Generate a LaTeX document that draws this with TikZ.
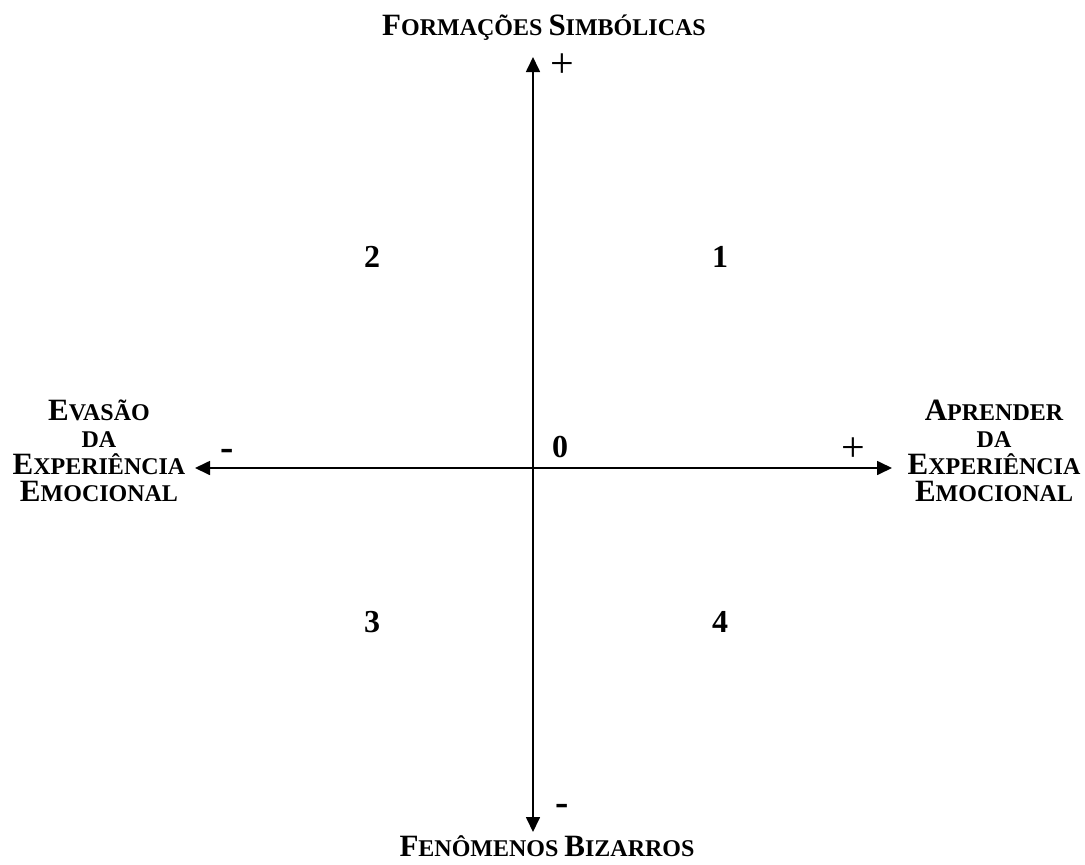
\documentclass[tikz,border=0pt]{standalone}
\usepackage{fontspec}
\setmainfont{Liberation Serif}
\usetikzlibrary{arrows.meta}
\newcommand{\bigc}[1]{{\fontsize{31}{27}\selectfont #1}}
\newcommand{\smc}[1]{{\fontsize{24}{27}\selectfont #1}}
\tikzset{
  axis/.style={line width=1.7pt,-{Triangle[length=15pt,width=14pt]}},
  lbl/.style={font=\bfseries\fontsize{24}{27}\selectfont,align=center,inner sep=0pt},
  num/.style={font=\bfseries\fontsize{32}{34}\selectfont,inner sep=0pt},
  plus/.style={font=\fontsize{42}{44}\selectfont,inner sep=0pt},
  minus/.style={font=\bfseries\fontsize{40}{44}\selectfont,inner sep=0pt}
}
\begin{document}
\begin{tikzpicture}[x=1pt,y=-1pt]
\useasboundingbox (0,0) rectangle (1085,865);
\coordinate (c) at (533,468);
\coordinate (top) at (533,57);
\coordinate (bot) at (533,832);
\coordinate (lft) at (195,468);
\coordinate (rgt) at (892,468);
\draw[axis] (c) -- (top);
\draw[axis] (c) -- (bot);
\draw[axis] (c) -- (lft);
\draw[axis] (c) -- (rgt);
\node[lbl,anchor=base] (tl) at (544,35) {\bigc{F}\smc{ORMAÇÕES} \bigc{S}\smc{IMBÓLICAS}};
\node[lbl,anchor=base] (bl) at (547,856) {\bigc{F}\smc{ENÔMENOS} \bigc{B}\smc{IZARROS}};
\node[lbl,anchor=center] (ll) at (99,451) {\bigc{E}\smc{VASÃO}\\\smc{DA}\\\bigc{E}\smc{XPERIÊNCIA}\\\bigc{E}\smc{MOCIONAL}};
\node[lbl,anchor=center] (rl) at (994,451) {\bigc{A}\smc{PRENDER}\\\smc{DA}\\\bigc{E}\smc{XPERIÊNCIA}\\\bigc{E}\smc{MOCIONAL}};
\node[plus] (pt) at (562,66) {+};
\node[minus] (mb) at (562,810) {-};
\node[minus] (ml) at (227,455) {-};
\node[plus] (pr) at (853,450) {+};
\node[num] (n0) at (560,447) {0};
\node[num] (n1) at (720,257) {1};
\node[num] (n2) at (372,257) {2};
\node[num] (n3) at (372,622) {3};
\node[num] (n4) at (720,622) {4};
\end{tikzpicture}
\end{document}
